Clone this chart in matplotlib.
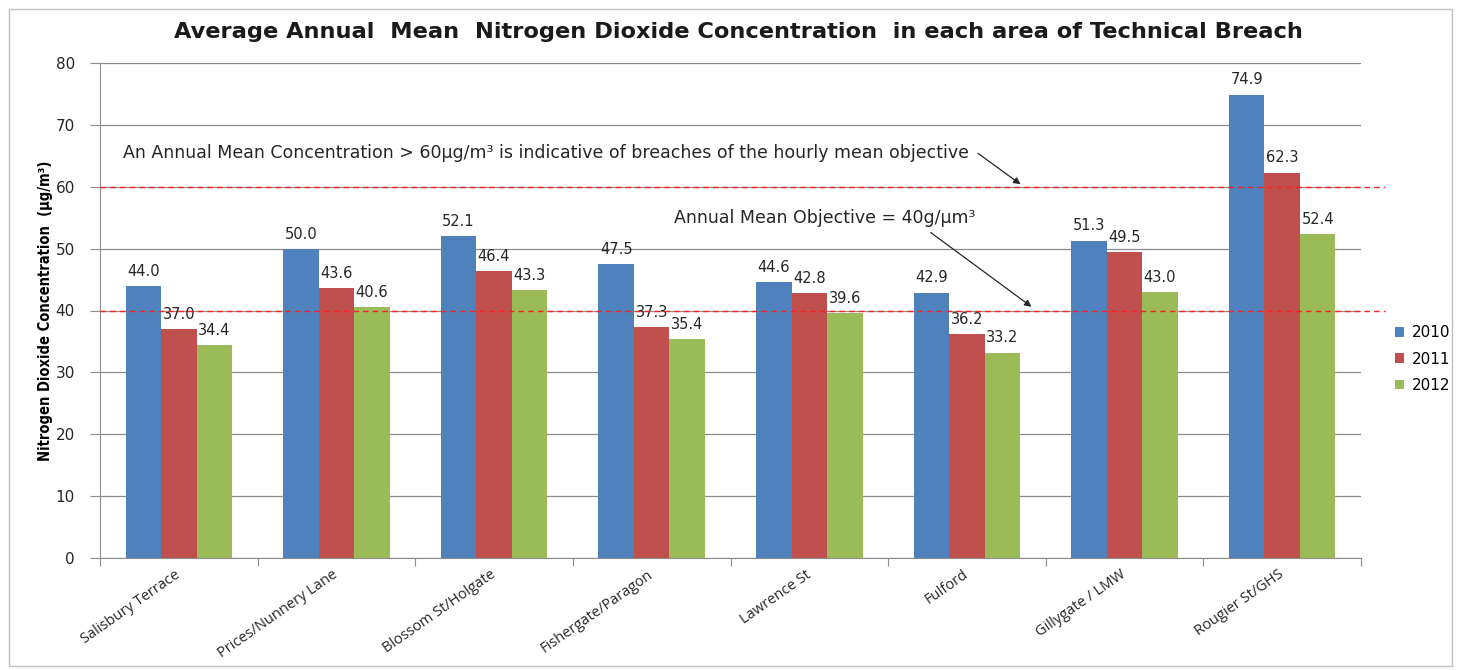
import matplotlib
matplotlib.use("Agg")
import matplotlib.pyplot as plt
import matplotlib.patches
from matplotlib import font_manager
import numpy as np

# Data
areas = ["Salisbury Terrace", "Prices/Nunnery Lane", "Blossom St/Holgate",
         "Fishergate/Paragon", "Lawrence St", "Fulford", "Gillygate / LMW",
         "Rougier St/GHS"]
years = ["2010", "2011", "2012"]
no2_2010 = [44.0, 50.0, 52.1, 47.5, 44.6, 42.9, 51.3, 74.9]
no2_2011 = [37.0, 43.6, 46.4, 37.3, 42.8, 36.2, 49.5, 62.3]
no2_2012 = [34.4, 40.6, 43.3, 35.4, 39.6, 33.2, 43.0, 52.4]
hourly_limit = 60
annual_objective = 40

colors = ["#4F81BD", "#C0504D", "#9BBB59"]
grid_col = "#8C8C8C"
text_col = "#262626"

# a narrow bold face for the y label, if one is installed
installed = set((f.name, f.stretch) for f in font_manager.fontManager.ttflist)
names = set(n for n, s in installed)
if "Liberation Sans Narrow" in names:
    ylab_font = dict(family="Liberation Sans Narrow", fontsize=12)
elif any(n == "DejaVu Sans" and s != "normal" and s != 500 for n, s in installed):
    ylab_font = dict(family="DejaVu Sans", fontstretch="condensed", fontsize=10.5)
else:
    ylab_font = dict(family="Liberation Sans", fontsize=10)

fig = plt.figure(figsize=(14.59, 6.70), dpi=100)
W, H = 1459, 670

# light frame round the whole chart
fig.patches.append(matplotlib.patches.Rectangle(
    (9 / W, 4 / H), 1443 / W, 657 / H, transform=fig.transFigure,
    fill=False, edgecolor="#BFBFBF", lw=1.0))

ax = fig.add_axes([100 / W, 1 - 558 / H, 1261 / W, 495 / H])

x = np.arange(len(areas))
bw = 0.225
series = [no2_2010, no2_2011, no2_2012]
for i, (vals, yr) in enumerate(zip(series, years)):
    xs = x + (i - 1) * bw
    ax.bar(xs, vals, width=bw, color=colors[i], label=yr, zorder=3)
    for xv, v in zip(xs, vals):
        ax.annotate("%.1f" % v, (xv, v), xytext=(0, 10.5), textcoords="offset points",
                    ha="center", va="center", fontsize=10.5, color=text_col,
                    zorder=4)

ax.set_xlim(-0.5, len(areas) - 0.5)
ax.set_ylim(0, 80)
ax.set_yticks(range(0, 81, 10))
ax.yaxis.grid(True, color=grid_col, lw=0.9, zorder=0)
ax.set_axisbelow(True)

ax.set_xticks(np.arange(-0.5, len(areas), 1.0))
ax.set_xticklabels([])
ax.set_xticks(x, minor=True)
ax.set_xticklabels(areas, minor=True, rotation=35, ha="right", va="center",
                   rotation_mode="anchor", fontsize=10.5, color=text_col,
                   family="Open Sans")
ax.tick_params(axis="x", which="minor", length=0, pad=11)
ax.tick_params(axis="x", which="major", length=6, color=grid_col)
ax.tick_params(axis="y", length=7, color=grid_col, labelsize=11,
               labelcolor=text_col, pad=11)

for s in ["top", "right"]:
    ax.spines[s].set_visible(False)
for s in ["left", "bottom"]:
    ax.spines[s].set_color(grid_col)

# threshold lines run a little past the plot area
for lim in [hourly_limit, annual_objective]:
    ax.plot([-0.5, 7.65], [lim, lim], color="#FF2020", lw=1.0,
            dashes=(4, 3), clip_on=False, zorder=5)

ax.text(-0.355, 65.4, "An Annual Mean Concentration > 60µg/m³ is indicative of "
        "breaches of the hourly mean objective", fontsize=12.5, color=text_col,
        va="center", ha="left")
ax.annotate("", xy=(5.34, 60.4), xytext=(5.07, 65.4),
            arrowprops=dict(arrowstyle="-|>", color=text_col, lw=0.9,
                            shrinkA=0, shrinkB=0))
ax.text(3.14, 55.0, "Annual Mean Objective = 40g/µm³", fontsize=12.5,
        color=text_col, va="center", ha="left")
ax.annotate("", xy=(5.41, 40.6), xytext=(4.77, 52.6),
            arrowprops=dict(arrowstyle="-|>", color=text_col, lw=0.9,
                            shrinkA=0, shrinkB=0))

ax.set_ylabel("Nitrogen Dioxide Concentration  (µg/m³)", fontweight="bold",
              labelpad=2, **ylab_font)

fig.text(738 / W, 1 - 32 / H, "Average Annual  Mean  Nitrogen Dioxide Concentration  "
         "in each area of Technical Breach", ha="center", va="center",
         fontsize=16.2, fontweight="bold", color="#1a1a1a")

leg = ax.legend(loc="center left", bbox_to_anchor=(1.022, 0.402), frameon=False,
                fontsize=11, handlelength=0.6, handleheight=0.6,
                labelspacing=0.75, handletextpad=0.5, borderaxespad=0)

fig.savefig("out.png", dpi=100)
